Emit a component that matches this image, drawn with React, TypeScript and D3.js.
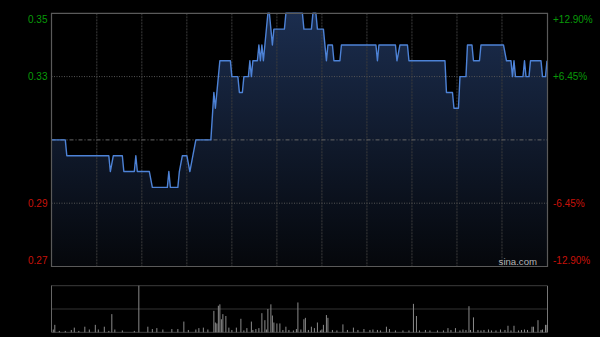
import React from "react";
import * as d3 from "d3";

// price line breakpoints (minute of session, price)
const minutes = [0, 9, 10, 38, 39, 41, 47, 48, 55, 56, 57, 65, 67, 77, 78, 79, 84, 85, 87, 90, 92, 94, 96, 106, 108, 109, 110, 112, 119, 120, 124, 125, 127, 128, 131, 132, 133, 134, 137, 138, 139, 140, 141, 144, 145, 147, 148, 155, 156, 167, 168, 173, 174, 176, 177, 181, 183, 184, 187, 188, 192, 193, 216, 217, 218, 229, 230, 232, 237, 238, 262, 263, 267, 268, 271, 272, 276, 277, 280, 281, 285, 286, 301, 303, 306, 307, 308, 309, 314, 315, 316, 318, 319, 326, 327, 329, 330];
const prices = [0.31, 0.31, 0.305, 0.305, 0.30, 0.305, 0.305, 0.30, 0.30, 0.305, 0.30, 0.30, 0.295, 0.295, 0.30, 0.295, 0.295, 0.30, 0.305, 0.305, 0.30, 0.305, 0.31, 0.31, 0.325, 0.32, 0.325, 0.335, 0.335, 0.33, 0.33, 0.325, 0.325, 0.33, 0.33, 0.335, 0.33, 0.335, 0.335, 0.34, 0.335, 0.34, 0.335, 0.35, 0.35, 0.34, 0.345, 0.345, 0.35, 0.35, 0.345, 0.345, 0.35, 0.35, 0.345, 0.345, 0.335, 0.34, 0.34, 0.335, 0.335, 0.34, 0.34, 0.335, 0.34, 0.34, 0.335, 0.34, 0.34, 0.335, 0.335, 0.325, 0.325, 0.32, 0.32, 0.33, 0.33, 0.34, 0.34, 0.335, 0.335, 0.34, 0.34, 0.335, 0.335, 0.33, 0.335, 0.33, 0.33, 0.335, 0.33, 0.33, 0.335, 0.335, 0.33, 0.33, 0.335];

// volume bars (minute, relative volume)
const volMinutes = [1, 2, 5, 9, 13, 15, 18, 22, 25, 29, 31, 35, 38, 40, 42, 47, 55, 58, 64, 67, 70, 74, 80, 84, 88, 91, 96, 98, 101, 104, 108, 109, 110, 111, 112, 113, 114, 116, 118, 120, 123, 126, 128, 130, 133, 134, 136, 138, 140, 142, 143, 144, 146, 147, 148, 150, 152, 154, 156, 158, 161, 163, 164, 166, 168, 169, 171, 173, 175, 177, 179, 180, 181, 183, 184, 187, 190, 194, 197, 201, 204, 208, 212, 214, 217, 219, 223, 225, 229, 234, 238, 241, 243, 245, 249, 252, 257, 261, 264, 266, 269, 272, 274, 276, 278, 279, 281, 284, 286, 288, 291, 293, 296, 299, 302, 304, 306, 308, 311, 313, 315, 317, 320, 321, 324, 326, 327, 329, 330];
const volValues = [6, 16, 3, 3, 5, 10, 3, 12, 6, 16, 6, 12, 3, 39, 6, 4, 3, 100, 12, 7, 9, 6, 7, 7, 23, 5, 6, 9, 10, 6, 46, 21, 19, 57, 60, 28, 39, 35, 10, 5, 10, 29, 4, 9, 23, 5, 7, 9, 41, 26, 6, 50, 60, 36, 21, 19, 19, 5, 12, 5, 4, 7, 64, 6, 28, 31, 5, 12, 9, 21, 4, 6, 16, 37, 31, 5, 4, 17, 5, 10, 5, 7, 5, 6, 5, 4, 12, 7, 4, 4, 4, 61, 35, 4, 5, 4, 4, 4, 9, 5, 9, 4, 6, 5, 56, 5, 32, 5, 4, 5, 6, 4, 4, 6, 5, 14, 4, 14, 4, 5, 6, 5, 12, 12, 26, 5, 6, 16, 16];

const prevClose = 0.31;
const leftTicks = [0.35, 0.33, 0.29, 0.27];
const gridMinutes = [30, 60, 90, 120, 150, 180, 210, 240, 270, 300];

const W = 600, H = 337;
const L = 51.5, R = 547.5, T = 13.3, B = 266.5;
const VT = 285.7, VB = 332.3;

export default function App() {
  const x = d3.scaleLinear().domain([0, 330]).range([L + 0.3, R - 0.5]);
  const y = d3.scaleLinear().domain([0.27, 0.35]).range([B, T]);
  const vy = d3.scaleLinear().domain([0, 100]).range([VB, VT]);

  const pts = minutes.map((m, i) => [m, prices[i]] as [number, number]);
  const line = d3.line<[number, number]>().x(d => x(d[0])).y(d => y(d[1]))(pts) || "";
  const area = d3.area<[number, number]>().x(d => x(d[0])).y0(B).y1(d => y(d[1]))(pts) || "";

  const fmtPct = (v: number) => {
    const p = ((v - prevClose) / prevClose) * 100;
    return (p > 0 ? "+" : "") + p.toFixed(2) + "%";
  };
  const labelY = (v: number) => {
    const yy = y(v);
    if (v === 0.35) return yy + 6;
    if (v === 0.27) return yy - 6;
    return yy;
  };
  const font = "'Liberation Sans', Arial, sans-serif";

  return (
    <svg width={W} height={H} style={{ position: "fixed", left: 0, top: 0, background: "#000", display: "block" }}>
      <defs>
        <linearGradient id="ag" gradientUnits="userSpaceOnUse" x1="0" y1={T} x2="0" y2={B}>
          <stop offset="0%" stopColor="#1b2d4e" />
          <stop offset="55%" stopColor="#0f1829" />
          <stop offset="100%" stopColor="#05070b" />
        </linearGradient>
      </defs>
      <rect x={0} y={0} width={W} height={H} fill="#000" />
      <path d={area} fill="url(#ag)" />
      {gridMinutes.map(m => (
        <line key={m} x1={x(m)} x2={x(m)} y1={T} y2={B} stroke="#3c3c3c" strokeWidth={1} strokeDasharray="2,1" />
      ))}
      {[0.33, 0.29].map(v => (
        <line key={v} x1={L} x2={R} y1={y(v)} y2={y(v)} stroke="#555" strokeWidth={1} strokeDasharray="1,1.5" />
      ))}
      <line x1={L} x2={R} y1={y(prevClose)} y2={y(prevClose)} stroke="#666" strokeWidth={1} strokeDasharray="4,2,1,2" />
      <path d={line} fill="none" stroke="#4d82d6" strokeWidth={1.4} strokeLinejoin="round" />
      <path d={`M${L},${T}H${R}V${B}H${L}Z`} fill="none" stroke="#5a5a5a" strokeWidth={1.2} />
      {leftTicks.map(v => (
        <text key={"l" + v} x={47.5} y={labelY(v)} dy="0.35em" textAnchor="end" fontFamily={font} fontSize={10}
          fill={v > prevClose ? "#089a08" : "#c8120a"}>{v.toFixed(2)}</text>
      ))}
      {leftTicks.map(v => (
        <text key={"r" + v} x={553} y={labelY(v)} dy="0.35em" textAnchor="start" fontFamily={font} fontSize={10}
          fill={v > prevClose ? "#089a08" : "#c8120a"}>{fmtPct(v)}</text>
      ))}
      <text x={537} y={262} dy="0.35em" textAnchor="end" fontFamily={font} fontSize={9.6} fill="#b5b5b5">sina.com</text>

      {/* volume panel */}
      <line x1={L} x2={R} y1={VT} y2={VT} stroke="#777" strokeWidth={1} strokeDasharray="1,1" />
      <line x1={L} x2={R} y1={(VT + VB) / 2} y2={(VT + VB) / 2} stroke="#666" strokeWidth={1} strokeDasharray="1,1" />
      <line x1={L} x2={L} y1={VT} y2={VB} stroke="#666" strokeWidth={1} />
      <line x1={R} x2={R} y1={VT} y2={VB} stroke="#777" strokeWidth={1} />
      <line x1={L} x2={R} y1={VB} y2={VB} stroke="#444" strokeWidth={1} />
      {volMinutes.map((m, i) => (
        <line key={"v" + i} x1={x(m)} x2={x(m)} y1={VB} y2={vy(volValues[i])} stroke="#8a8a8a" strokeWidth={1} />
      ))}
    </svg>
  );
}
